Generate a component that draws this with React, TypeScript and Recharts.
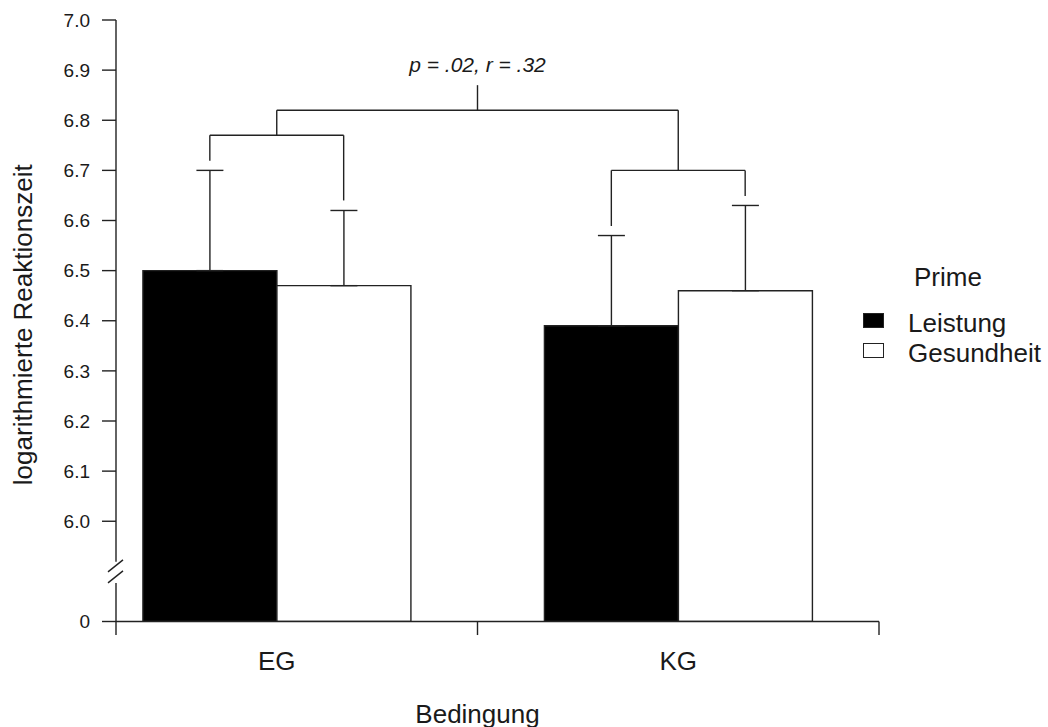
import React from 'react';
import { ComposedChart, Bar, XAxis, YAxis, ErrorBar, ReferenceLine, Legend } from 'recharts';

// ---------- data ----------
const CATEGORIES = ['EG', 'KG'];
const SERIES_NAMES = ['Leistung', 'Gesundheit'];
const LEISTUNG_MEAN = [6.5, 6.39];
const GESUNDHEIT_MEAN = [6.47, 6.46];
const LEISTUNG_ERR = [0.2, 0.18];
const GESUNDHEIT_ERR = [0.15, 0.17];
// centre of each group on the bar-slot axis (slots 1,2 = EG bars; 4,5 = KG bars)
const GROUP_SLOT = [1.5, 4.5];

const Y_TICKS = [5.8, 6.0, 6.1, 6.2, 6.3, 6.4, 6.5, 6.6, 6.7, 6.8, 6.9, 7.0];
const Y_TICK_LABELS = ['0', '6.0', '6.1', '6.2', '6.3', '6.4', '6.5', '6.6', '6.7', '6.8', '6.9', '7.0'];
const Y_DOMAIN = [5.8, 7.0];
const SLOT_DOMAIN = [0, 6];
const FRAME_DOMAIN = [0, 1];

const LEGEND_TITLE = 'Prime';
const X_TITLE = 'Bedingung';
const Y_TITLE = 'logarithmierte Reaktionszeit';
const ANNOTATION = 'p = .02, r = .32';

// significance brackets on the bar-slot axis: [xStart, yStart, xEnd, yEnd]
const BRACKET_SEGMENTS = [
  [1, 6.719, 1, 6.77],
  [1, 6.77, 2, 6.77],
  [2, 6.77, 2, 6.64],
  [1.5, 6.77, 1.5, 6.82],
  [1.5, 6.82, 4.5, 6.82],
  [4.5, 6.82, 4.5, 6.7],
  [4, 6.7, 5, 6.7],
  [4, 6.7, 4, 6.589],
  [5, 6.7, 5, 6.649],
];
const ANNOTATION_STEM = [3, 6.82, 3, 6.87];

// axis frame pieces
const AXIS_BREAK_TOP = 5.919;
const AXIS_BREAK_BOTTOM = 5.877;
const TICK_BELOW = 5.773;
const X_FRAME_TICKS = [3, 6];

const data = CATEGORIES.map((c, i) => ({
  cat: c,
  slot: GROUP_SLOT[i],
  leistung: LEISTUNG_MEAN[i],
  gesundheit: GESUNDHEIT_MEAN[i],
  leistungErr: [0, LEISTUNG_ERR[i]],
  gesundheitErr: [0, GESUNDHEIT_ERR[i]],
}));

// ---------- style ----------
const FONT = '"Liberation Sans", Arial, Helvetica, sans-serif';
const INK = '#222';
const TEXT = '#1a1a1a';
const SW = 1.4;
const PAD_L = -40;

const AnnotatedStem = (props: any) => {
  const { x1, y1, x2, y2 } = props;
  const top = Math.min(y1, y2);
  return (
    <g>
      <line x1={x1} y1={y1} x2={x2} y2={y2} stroke={INK} strokeWidth={SW} />
      <text
        x={x1}
        y={top - 13}
        textAnchor="middle"
        fontStyle="italic"
        fontSize={21}
        fontFamily={FONT}
        fill={TEXT}
      >
        {ANNOTATION}
      </text>
    </g>
  );
};

const BrokenAxisPiece = (props: any) => {
  const { x1, y1, x2, y2 } = props;
  const top = Math.min(y1, y2);
  return (
    <g>
      <line x1={x1} y1={y1} x2={x2} y2={y2} stroke={INK} strokeWidth={SW} />
      <line x1={x1 - 8} y1={top} x2={x1 + 7} y2={top - 12} stroke={INK} strokeWidth={SW} />
      <line x1={x1 - 8} y1={top - 11} x2={x1 + 7} y2={top - 23} stroke={INK} strokeWidth={SW} />
    </g>
  );
};

const YTitle = (props: any) => {
  const vb = props.viewBox || { x: 0, y: 20, width: 116, height: 601.5 };
  const x = vb.x + 32;
  const cy = vb.y + vb.height / 2 + 4;
  return (
    <text
      x={x}
      y={cy}
      transform={`rotate(-90, ${x}, ${cy})`}
      textAnchor="middle"
      fontSize={26}
      fontFamily={FONT}
      fill={TEXT}
    >
      {Y_TITLE}
    </text>
  );
};

const XTitle = (props: any) => {
  const vb = props.viewBox || { x: 116, y: 621.5, width: 763, height: 40 };
  const x = vb.x + PAD_L / 2 + vb.width / 2;
  return (
    <text x={x} y={vb.y + 101} textAnchor="middle" fontSize={26} fontFamily={FONT} fill={TEXT}>
      {X_TITLE}
    </text>
  );
};

const LegendContent = (props: any) => {
  const payload = [...(props.payload || [])].sort(
    (a: any, b: any) => SERIES_NAMES.indexOf(a.value) - SERIES_NAMES.indexOf(b.value)
  );
  return (
    <div style={{ fontFamily: FONT, color: TEXT, fontSize: 26 }}>
      <div style={{ lineHeight: '30px', height: 30, paddingLeft: 51, marginBottom: 16 }}>{LEGEND_TITLE}</div>
      {payload.map((entry: any, i: number) => (
        <div key={i} style={{ display: 'flex', alignItems: 'flex-start', height: 30, lineHeight: '30px' }}>
          <span
            style={{
              display: 'inline-block',
              width: 21,
              height: 15,
              marginTop: 5,
              boxSizing: 'border-box',
              background: entry.color,
              border: `1.3px solid ${INK}`,
              marginRight: 24,
            }}
          />
          <span>{entry.value}</span>
        </div>
      ))}
    </div>
  );
};

export default function App() {
  return (
    <div style={{ position: 'absolute', left: 0, top: 0, width: 1048, height: 727, background: '#fff' }}>
      <ComposedChart
        width={1048}
        height={727}
        data={data}
        margin={{ top: 20, right: 169, bottom: 65.5, left: 0 }}
        barGap={0}
        barCategoryGap="16.6667%"
      >
        <XAxis
          xAxisId="cat"
          dataKey="cat"
          padding={{ left: PAD_L, right: 0 }}
          tickLine={false}
          axisLine={{ stroke: INK, strokeWidth: SW }}
          tick={{ fontSize: 26, fill: TEXT, fontFamily: FONT }}
          tickSize={14}
          tickMargin={16}
          height={40}
          interval={0}
          label={<XTitle />}
        />
        <XAxis
          xAxisId="slot"
          dataKey="slot"
          type="number"
          domain={SLOT_DOMAIN}
          allowDataOverflow
          padding={{ left: PAD_L, right: 0 }}
          hide
        />
        <XAxis
          xAxisId="frame"
          dataKey="slot"
          type="number"
          domain={FRAME_DOMAIN}
          allowDataOverflow
          hide
        />
        <YAxis
          width={116}
          domain={Y_DOMAIN}
          allowDataOverflow
          ticks={Y_TICKS}
          interval={0}
          tickFormatter={(v: number) => Y_TICK_LABELS[Y_TICKS.indexOf(v)] ?? String(v)}
          axisLine={false}
          tickLine={{ stroke: INK, strokeWidth: SW }}
          tickSize={14}
          tickMargin={12}
          tick={{ fontSize: 19, fill: TEXT, fontFamily: FONT }}
          label={<YTitle />}
        />
        <Legend
          layout="vertical"
          align="center"
          verticalAlign="middle"
          content={<LegendContent />}
          wrapperStyle={{ position: 'absolute', left: 863, top: 262, width: 185 }}
        />
        <Bar
          xAxisId="cat"
          dataKey="leistung"
          name={SERIES_NAMES[0]}
          fill="#000"
          stroke={INK}
          strokeWidth={SW}
          isAnimationActive={false}
        >
          <ErrorBar dataKey="leistungErr" width={13.5} stroke={INK} strokeWidth={SW} isAnimationActive={false} />
        </Bar>
        <Bar
          xAxisId="cat"
          dataKey="gesundheit"
          name={SERIES_NAMES[1]}
          fill="#fff"
          stroke={INK}
          strokeWidth={SW}
          isAnimationActive={false}
        >
          <ErrorBar dataKey="gesundheitErr" width={13.5} stroke={INK} strokeWidth={SW} isAnimationActive={false} />
        </Bar>

        {/* y axis with break */}
        <ReferenceLine
          xAxisId="frame"
          segment={[{ x: FRAME_DOMAIN[0], y: Y_DOMAIN[1] }, { x: FRAME_DOMAIN[0], y: AXIS_BREAK_TOP }]}
          stroke={INK}
          strokeWidth={SW}
          ifOverflow="visible"
        />
        <ReferenceLine
          xAxisId="frame"
          segment={[{ x: FRAME_DOMAIN[0], y: AXIS_BREAK_BOTTOM }, { x: FRAME_DOMAIN[0], y: TICK_BELOW }]}
          stroke={INK}
          strokeWidth={SW}
          ifOverflow="visible"
          shape={BrokenAxisPiece}
        />
        {/* x axis ticks at category boundaries */}
        {X_FRAME_TICKS.map((t, i) => (
          <ReferenceLine
            key={`xt${i}`}
            xAxisId="slot"
            segment={[{ x: t, y: Y_DOMAIN[0] }, { x: t, y: TICK_BELOW }]}
            stroke={INK}
            strokeWidth={SW}
            ifOverflow="visible"
          />
        ))}
        {/* significance brackets */}
        {BRACKET_SEGMENTS.map((s, i) => (
          <ReferenceLine
            key={`br${i}`}
            xAxisId="slot"
            segment={[{ x: s[0], y: s[1] }, { x: s[2], y: s[3] }]}
            stroke={INK}
            strokeWidth={SW}
            ifOverflow="visible"
          />
        ))}
        <ReferenceLine
          xAxisId="slot"
          segment={[{ x: ANNOTATION_STEM[0], y: ANNOTATION_STEM[1] }, { x: ANNOTATION_STEM[2], y: ANNOTATION_STEM[3] }]}
          stroke={INK}
          strokeWidth={SW}
          ifOverflow="visible"
          shape={AnnotatedStem}
        />
      </ComposedChart>
    </div>
  );
}
